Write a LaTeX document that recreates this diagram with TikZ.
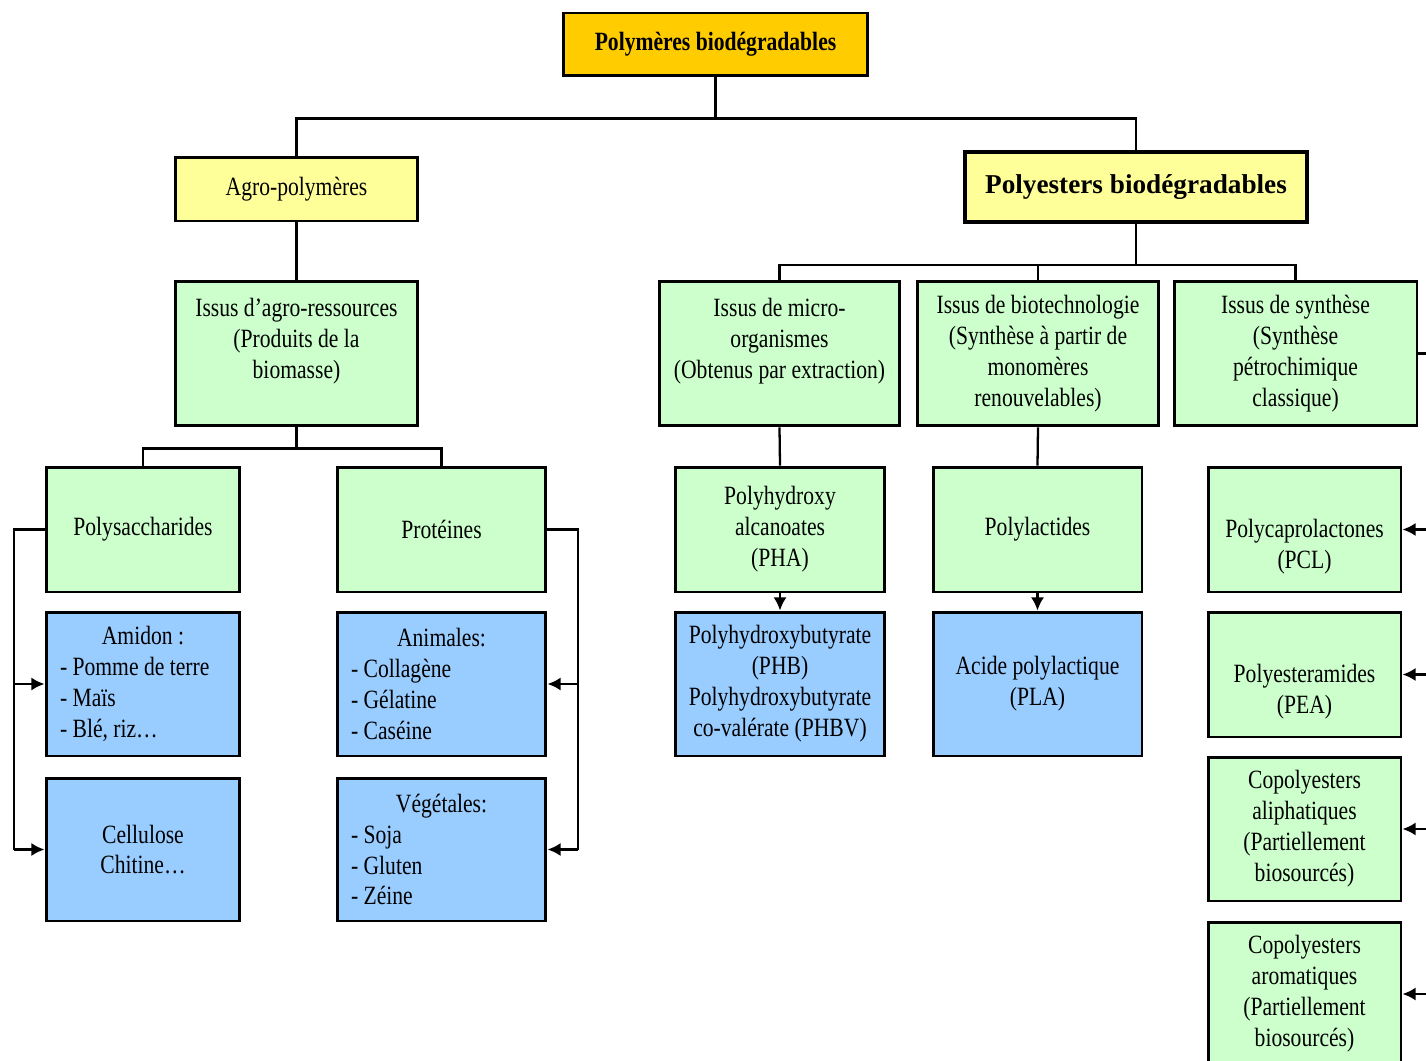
\documentclass[tikz,border=0pt]{standalone}
\usepackage{fontspec}
\setmainfont{Liberation Serif}[FakeStretch=0.82]
\newfontfamily\largefont{Liberation Serif}
\usetikzlibrary{scopes,arrows.meta}
\definecolor{cOr}{HTML}{FFCC00}
\definecolor{cJaune}{HTML}{FFFF99}
\definecolor{cVert}{HTML}{CCFFCC}
\definecolor{cBleu}{HTML}{99CCFF}

\begin{document}
\begin{tikzpicture}[
    x=0.02cm,y=-0.02cm,
    >={Latex[length=7.5pt,width=7.5pt]},
    bx/.style={rectangle,draw=black,line width=1.7pt,align=center,inner sep=2pt,
        font=\fontsize{15}{17.6}\selectfont},
    titre/.style={bx,fill=cOr,font=\bfseries\fontsize{15}{17.6}\selectfont},
    jaune/.style={bx,fill=cJaune},
    vert/.style={bx,fill=cVert},
    bleu/.style={bx,fill=cBleu},
    liste/.style={bleu,align=left,inner xsep=0.28cm,text width=#1},
    lien/.style={draw=black,line width=1.3pt},
]
    \useasboundingbox (0,0) rectangle (1426,1061);
    \clip (0,0) rectangle (1426,1061);

    % haut
    \node[titre,minimum width=6.1cm,minimum height=1.26cm] (pb) at (715.5,44.5) {Polymères biodégradables};
    \node[jaune,minimum width=4.86cm,minimum height=1.28cm] (agro) at (296.5,189) {Agro-polymères};
    \node[jaune,line width=2.3pt,minimum width=6.84cm,minimum height=1.4cm,
        font=\largefont\bfseries\fontsize{15.5}{18}\selectfont] (poly) at (1136,187) {Polyesters biodégradables};

    % agro-polymeres
    \node[vert,minimum width=4.86cm,minimum height=2.9cm] (res) at (296.5,353.5) {Issus d’agro-ressources\\(Produits de la\\biomasse)\\\mbox{}};
    \node[vert,minimum width=3.88cm,minimum height=2.5cm] (sacc) at (143,529.5) {Polysaccharides};
    \node[vert,minimum width=4.18cm,minimum height=2.5cm] (prot) at (441.5,529.5) {Protéines};
    \node[liste=3.32cm,minimum height=2.88cm] (amid) at (143,684) {\spaceskip=0pt\makebox[\linewidth]{Amidon :}\\- Pomme de terre\\- Maïs\\- Blé, riz…};
    \node[bleu,minimum width=3.88cm,minimum height=2.86cm] (cell) at (143,849.5) {Cellulose\\Chitine…};
    \node[liste=3.62cm,minimum height=2.88cm] (anim) at (441.5,684) {\spaceskip=0pt\makebox[\linewidth]{Animales:}\\- Collagène\\- Gélatine\\- Caséine};
    \node[liste=3.62cm,minimum height=2.86cm] (veg) at (441.5,849.5) {\spaceskip=0pt\makebox[\linewidth]{Végétales:}\\- Soja\\- Gluten\\- Zéine};

    % polyesters
    \node[vert,minimum width=4.82cm,minimum height=2.9cm] (micro) at (779.5,353.5) {Issus de micro-\\organismes\\(Obtenus par extraction)\\\mbox{}};
    \node[vert,minimum width=4.84cm,minimum height=2.9cm] (biot) at (1038,353.5) {Issus de biotechnologie\\(Synthèse à partir de\\monomères\\renouvelables)};
    \node[vert,minimum width=4.86cm,minimum height=2.9cm] (synt) at (1295.5,353.5) {Issus de synthèse\\(Synthèse\\pétrochimique\\classique)};
    \node[vert,minimum width=4.2cm,minimum height=2.5cm] (pha) at (780,529.5) {Polyhydroxy\\alcanoates\\(PHA)};
    \node[bleu,minimum width=4.2cm,minimum height=2.88cm] (phb) at (780,684) {Polyhydroxybutyrate\\(PHB)\\Polyhydroxybutyrate\\co-valérate (PHBV)};
    \node[vert,minimum width=4.18cm,minimum height=2.5cm] (plac) at (1037.5,529.5) {Polylactides};
    \node[bleu,minimum width=4.18cm,minimum height=2.88cm] (pla) at (1037.5,684) {Acide polylactique\\(PLA)};
    \node[vert,minimum width=3.86cm,minimum height=2.5cm] (pcl) at (1304.5,529.5) {\strut\\Polycaprolactones\\(PCL)};
    \node[vert,minimum width=3.86cm,minimum height=2.5cm] (pea) at (1304.5,674.5) {\strut\\Polyesteramides\\(PEA)};
    \node[vert,minimum width=3.86cm,minimum height=2.88cm] (ali) at (1304.5,829) {Copolyesters\\aliphatiques\\(Partiellement\\biosourcés)};
    \node[vert,minimum width=3.86cm,minimum height=2.88cm] (aro) at (1304.5,994) {Copolyesters\\aromatiques\\(Partiellement\\biosourcés)};

    \coordinate (g) at (14,0);
    \coordinate (d) at (578,0);
    \coordinate (dr) at (1440,0);

    {[lien]
        \draw (pb.south) -- ++(0,41) -| (agro.north);
        \draw (pb.south) -- ++(0,41) -| (poly.north);
        \draw (agro.south) -- (res.north);
        \draw (res.south) -- ++(0,21) -| (sacc.north);
        \draw (res.south) -- ++(0,21) -| (prot.north);
        \draw (poly.south) -- ++(0,41) -| (micro.north);
        \draw (poly.south) -- ++(0,41) -| (biot.north);
        \draw (poly.south) -- ++(0,41) -| (synt.north);
        \draw (micro.south) -- (pha.north);
        \draw (biot.south) -- (plac.north);
        \draw (sacc.west) -- (sacc.west -| g) -- (g |- cell.west);
        \draw (prot.east) -- (prot.east -| d) -- (d |- veg.east);
        \draw (synt.east) -- (synt.east -| dr) -- (dr |- aro.east);
    }
    {[lien,->]
        \draw (pha.south) -- (phb.north);
        \draw (plac.south) -- (pla.north);
        \draw (g |- amid.west) -- (amid.west);
        \draw (g |- cell.west) -- (cell.west);
        \draw (d |- anim.east) -- (anim.east);
        \draw (d |- veg.east) -- (veg.east);
        \draw (dr |- pcl.east) -- (pcl.east);
        \draw (dr |- pea.east) -- (pea.east);
        \draw (dr |- ali.east) -- (ali.east);
        \draw (dr |- aro.east) -- (aro.east);
    }
\end{tikzpicture}
\end{document}
